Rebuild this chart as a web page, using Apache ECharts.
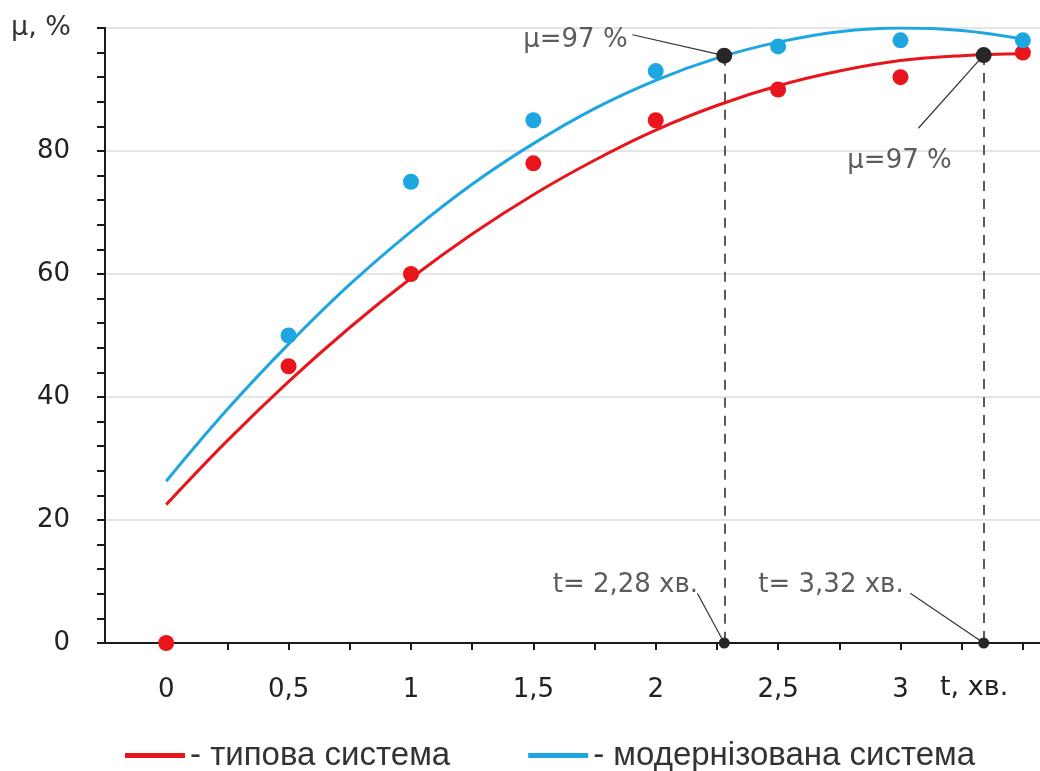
<!DOCTYPE html>
<html><head><meta charset="utf-8">
<script src="https://cdn.jsdelivr.net/npm/echarts@6/dist/echarts.min.js"></script>
<style>html,body{margin:0;padding:0;background:#fff}#c{width:1040px;height:771px}</style>
</head><body><div id="c"></div>
<script>
// ---- data ----
const curveX = [0, 0.25, 0.5, 0.75, 1, 1.25, 1.5, 1.75, 2, 2.25, 2.5, 2.75, 3, 3.25, 3.5];
const redCurve  = [22.5, 32.9, 42.5, 51.3, 59.3, 66.5, 72.9, 78.5, 83.4, 87.4, 90.6, 93.0, 94.7, 95.5, 95.8];
const blueCurve = [26.3, 38.0, 48.6, 58.3, 66.9, 74.6, 81.2, 86.9, 91.5, 95.1, 97.7, 99.4, 100.0, 99.6, 98.2];
const redX  = [0, 0.5, 1, 1.5, 2, 2.5, 3, 3.5];
const redY  = [0, 45, 60, 78, 85, 90, 92, 96];
const blueX = [0.5, 1, 1.5, 2, 2.5, 3, 3.5];
const blueY = [50, 75, 85, 93, 97, 98, 98];
const markT  = [2.28, 3.34];
const markMu = [95.5, 95.6];
const xTickValues = [0, 0.5, 1, 1.5, 2, 2.5, 3];
const xTickLabels = ['0', '0,5', '1', '1,5', '2', '2,5', '3'];
const seriesNames = ['типова система', 'модернізована система'];
const muLabels = ['μ=97 %', 'μ=97 %'];
const tLabels  = ['t= 2,28 хв.', 't= 3,32 хв.'];

const RED = '#e8161c', BLUE = '#1ea6e0', DARK = '#262626';
const zip = (a, b) => a.map((v, i) => [v, b[i]]);

// annotation text anchors (data coords) and leader-line starts
const annText = [
  {pos: [1.672, 98.0], text: muLabels[0]},
  {pos: [2.996, 78.3], text: muLabels[1]},
  {pos: [1.876, 9.4],  text: tLabels[0]},
  {pos: [2.716, 9.4],  text: tLabels[1]}
];
const leaders = [
  [[1.905, 98.9], [markT[0], markMu[0]]],
  [[3.073, 83.7], [markT[1], markMu[1]]],
  [[2.17, 8.1],   [markT[0], 0]],
  [[3.04, 8.1],   [markT[1], 0]]
];

const chart = echarts.init(document.getElementById('c'), null, {renderer: 'canvas'});
chart.setOption({
  animation: false,
  backgroundColor: '#fff',
  grid: {left: 105, right: 0, top: 28, bottom: 128, containLabel: false},
  legend: {
    left: 120, top: 734,
    icon: 'rect', itemWidth: 60, itemHeight: 5, itemGap: 78,
    data: seriesNames,
    formatter: n => '- ' + n,
    textStyle: {fontFamily: 'Liberation Sans, Arial', fontSize: 33, color: '#333'}
  },
  xAxis: {
    type: 'value', min: -0.25, max: 3.57, interval: 0.25,
    axisLine: {show: true, onZero: false, lineStyle: {color: '#1a1a1a', width: 2}},
    axisTick: {show: true, length: 7, lineStyle: {color: '#1a1a1a', width: 2}},
    splitLine: {show: false},
    axisLabel: {
      margin: 34, fontFamily: 'DejaVu Sans', fontSize: 26, color: '#222',
      showMinLabel: false, showMaxLabel: false,
      formatter: v => { const i = xTickValues.findIndex(t => Math.abs(t - v) < 1e-6); return i >= 0 ? xTickLabels[i] : ''; }
    }
  },
  yAxis: {
    type: 'value', min: 0, max: 100, interval: 20,
    axisLine: {show: true, onZero: false, lineStyle: {color: '#1a1a1a', width: 2}},
    axisTick: {show: true, length: 8, lineStyle: {color: '#1a1a1a', width: 2}},
    minorTick: {show: true, splitNumber: 5, length: 8, lineStyle: {color: '#1a1a1a', width: 2}},
    splitLine: {show: true, lineStyle: {color: '#dcdcdc', width: 1.5}},
    axisLabel: {margin: 35, fontFamily: 'DejaVu Sans', fontSize: 26, color: '#222', formatter: v => v === 100 ? '' : String(v)}
  },
  graphic: [
    {type: 'text', left: 11, top: 14, style: {text: 'μ, %', font: '27px "DejaVu Sans"', fill: '#333'}},
    {type: 'text', left: 940, top: 674, style: {text: 't, хв.', font: '27px "DejaVu Sans"', fill: '#222'}}
  ],
  series: [
    {name: seriesNames[0], type: 'line', smooth: 0.4, showSymbol: false, data: zip(curveX, redCurve),
     lineStyle: {color: RED, width: 3}, itemStyle: {color: RED}, z: 3},
    {name: seriesNames[1], type: 'line', smooth: 0.4, showSymbol: false, data: zip(curveX, blueCurve),
     lineStyle: {color: BLUE, width: 3}, itemStyle: {color: BLUE}, z: 3},
    {name: 'redPts', type: 'scatter', symbolSize: 16, data: zip(redX, redY), itemStyle: {color: RED, opacity: 1}, z: 4},
    {name: 'bluePts', type: 'scatter', symbolSize: 16, data: zip(blueX, blueY), itemStyle: {color: BLUE, opacity: 1}, z: 4},
    {name: 'marks', type: 'scatter', symbolSize: 16, data: zip(markT, markMu), itemStyle: {color: DARK, opacity: 1}, z: 6,
     markLine: {
       silent: true, symbol: ['none', 'none'], animation: false,
       label: {show: false},
       data: markT.map((t, i) => [
         {coord: [t, markMu[i]], lineStyle: {type: [10, 8], color: '#333', width: 1.6}},
         {coord: [t, 0]}
       ]).concat(leaders.map(l => [
         {coord: l[0], lineStyle: {type: 'solid', color: '#333', width: 1.2}},
         {coord: l[1]}
       ]))
     }},
    {name: 'axisMarks', type: 'scatter', symbolSize: 11, data: markT.map(t => [t, 0]), itemStyle: {color: DARK, opacity: 1}, z: 6, clip: false},
    {name: 'annotations', type: 'scatter', symbolSize: 0, z: 7, silent: true,
     data: annText.map(a => ({value: a.pos, label: {formatter: a.text}})),
     label: {show: true, position: 'inside', fontFamily: 'DejaVu Sans', fontSize: 26, color: '#333'}}
  ]
});
</script></body></html>
